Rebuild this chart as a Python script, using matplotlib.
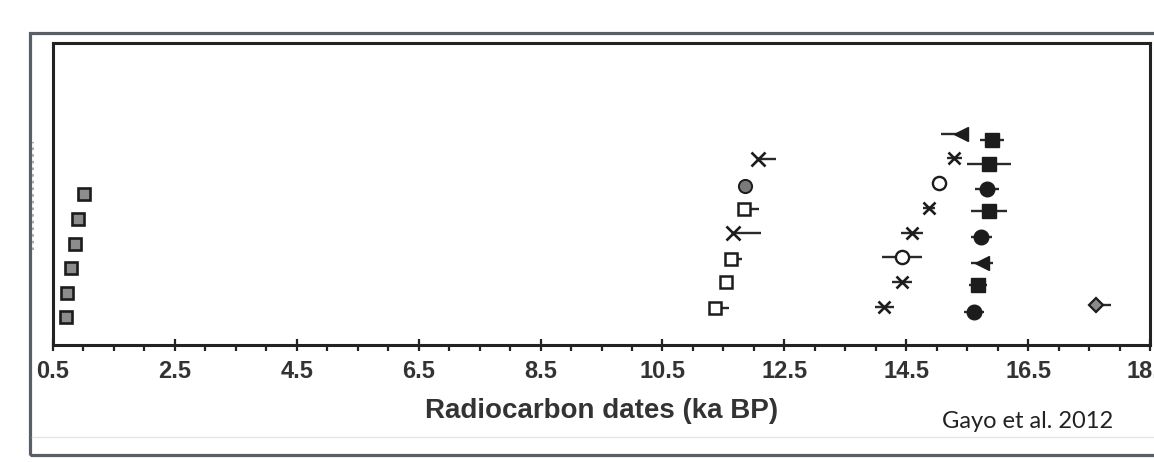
import matplotlib
matplotlib.use("Agg")
import matplotlib.pyplot as plt
from matplotlib.patches import Rectangle
from matplotlib.lines import Line2D
from matplotlib.ticker import MultipleLocator, FixedLocator

# ---------------- data (ka BP, row position) ----------------
# gray squares (young group)
gsq_x = [1.01, 0.91, 0.86, 0.80, 0.73, 0.71]
gsq_y = [6.11, 5.10, 4.09, 3.12, 2.11, 1.13]

# open squares (middle group) with right-only errors
osq_x = [11.83, 11.63, 11.55, 11.37]
osq_y = [5.51, 3.48, 2.55, 1.50]
osq_lo = [0.0, 0.0, 0.0, 0.0]
osq_hi = [0.25, 0.18, 0.0, 0.23]

# crosses (middle group) with right-only errors
crs_x = [12.06, 11.65]
crs_y = [7.53, 4.53]
crs_lo = [0.0, 0.0]
crs_hi = [0.30, 0.47]

# gray circle (middle group)
gci_x = [11.86]
gci_y = [6.45]

# asterisks (old group)
ast_x = [15.29, 14.88, 14.60, 14.43, 14.14]
ast_y = [7.57, 5.55, 4.53, 2.55, 1.54]
ast_err = [0.12, 0.10, 0.18, 0.16, 0.16]

# open circles (old group)
oci_x = [15.04, 14.43]
oci_y = [6.56, 3.56]
oci_err = [0.0, 0.33]

# filled triangles (old group)
tri_x = [15.40, 15.75]
tri_y = [8.54, 3.32]
tri_lo = [0.33, 0.18]
tri_hi = [0.05, 0.18]

# filled squares (old group)
fsq_x = [15.91, 15.86, 15.86, 15.68]
fsq_y = [8.30, 7.33, 5.43, 2.43]
fsq_err = [0.20, 0.36, 0.30, 0.15]

# filled circles (old group)
fci_x = [15.83, 15.73, 15.61]
fci_y = [6.32, 4.37, 1.34]
fci_err = [0.20, 0.17, 0.16]

# gray diamond (oldest)
dia_x = [17.61]
dia_y = [1.62]
dia_lo = [0.0]
dia_hi = [0.25]

major_ticks = [0.5, 2.5, 4.5, 6.5, 8.5, 10.5, 12.5, 14.5, 16.5, 18.5]
tick_labels = ["0.5", "2.5", "4.5", "6.5", "8.5", "10.5", "12.5", "14.5", "16.5", "18.5"]
x_label = "Radiocarbon dates (ka BP)"
credit = "Gayo et al. 2012"

# ---------------- figure ----------------
W, H = 1154, 462
fig = plt.figure(figsize=(W / 100, H / 100), dpi=100)
fig.patch.set_facecolor("white")

ax_l, ax_r, ax_t, ax_b = 53, 1150, 43, 345
ax = fig.add_axes([ax_l / W, 1 - ax_b / H, (ax_r - ax_l) / W, (ax_b - ax_t) / H])

ink = "#1c1c1c"
bar_kw = dict(linestyle="none", ecolor="#2a2a2a", elinewidth=1.7, capsize=0, zorder=3)

ax.errorbar(gsq_x, gsq_y, fmt="s", ms=9, mfc="#8c8c8c", mec=ink, mew=1.9, **bar_kw)
ax.errorbar(osq_x, osq_y, xerr=[osq_lo, osq_hi], fmt="s", ms=8.5, mfc="white", mec=ink, mew=1.8, **bar_kw)
ax.errorbar(crs_x, crs_y, xerr=[crs_lo, crs_hi], fmt="x", ms=9.5, mec=ink, mew=1.9, **bar_kw)
ax.errorbar(gci_x, gci_y, fmt="o", ms=9.5, mfc="#7a7a7a", mec=ink, mew=1.4, **bar_kw)
ax.errorbar(ast_x, ast_y, xerr=ast_err, fmt="x", ms=8.5, mec=ink, mew=1.9, **bar_kw)
ax.errorbar(oci_x, oci_y, xerr=oci_err, fmt="o", ms=9.5, mfc="white", mec=ink, mew=1.7, **bar_kw)
ax.errorbar(tri_x, tri_y, xerr=[tri_lo, tri_hi], fmt="<", ms=10, mfc=ink, mec=ink, mew=1.0, **bar_kw)
ax.errorbar(fsq_x, fsq_y, xerr=fsq_err, fmt="s", ms=10, mfc=ink, mec=ink, mew=1.0, **bar_kw)
ax.errorbar(fci_x, fci_y, xerr=fci_err, fmt="o", ms=10.5, mfc=ink, mec=ink, mew=1.0, **bar_kw)
ax.errorbar(dia_x, dia_y, xerr=[dia_lo, dia_hi], fmt="D", ms=7, mfc="#8a8a8a", mec=ink, mew=1.6, **bar_kw)

ax.set_xlim(0.5, 18.5)
ax.set_ylim(0, (ax_b - ax_t) / 24.7)

ax.xaxis.set_major_locator(FixedLocator(major_ticks))
ax.set_xticklabels(tick_labels)
ax.xaxis.set_minor_locator(MultipleLocator(0.5))
ax.tick_params(axis="x", which="major", direction="inout", length=9, width=1.6,
               color="#222222", pad=6, labelsize=17, labelcolor="#333333")
ax.tick_params(axis="x", which="minor", direction="out", length=4.5, width=1.6, color="#222222")
for lab in ax.get_xticklabels():
    lab.set_fontweight("bold")
    lab.set_family(["Liberation Sans", "DejaVu Sans"])
ax.set_yticks([])
for sp in ax.spines.values():
    sp.set_linewidth(2.2)
    sp.set_color("#222222")

ax.set_xlabel(x_label, fontsize=20, fontweight="bold", color="#333333",
              family=["Liberation Sans", "DejaVu Sans"])
ax.xaxis.set_label_coords(0.5, -0.175)

# outer frame of the slide
frame = Rectangle((30 / W, 1 - 455 / H), (1170 - 30) / W, (455 - 33) / H,
                  transform=fig.transFigure, fill=False, lw=2.3, edgecolor="#5a5f67", zorder=0)
fig.patches.append(frame)
fig.lines.append(Line2D([32 / W, 1.0], [1 - 437 / H, 1 - 437 / H], transform=fig.transFigure,
                        color="#e4e4e4", lw=1.0))
fig.lines.append(Line2D([33 / W, 33 / W], [1 - 250 / H, 1 - 142 / H], transform=fig.transFigure,
                        color="#9a9a9a", lw=1.2, linestyle=(0, (1.5, 2.5))))

fig.text(942 / W, 1 - 421 / H, credit, fontsize=17, color="#222222", va="center", ha="left",
         family=["Lato", "DejaVu Sans"])

fig.savefig("out.png", dpi=100)
